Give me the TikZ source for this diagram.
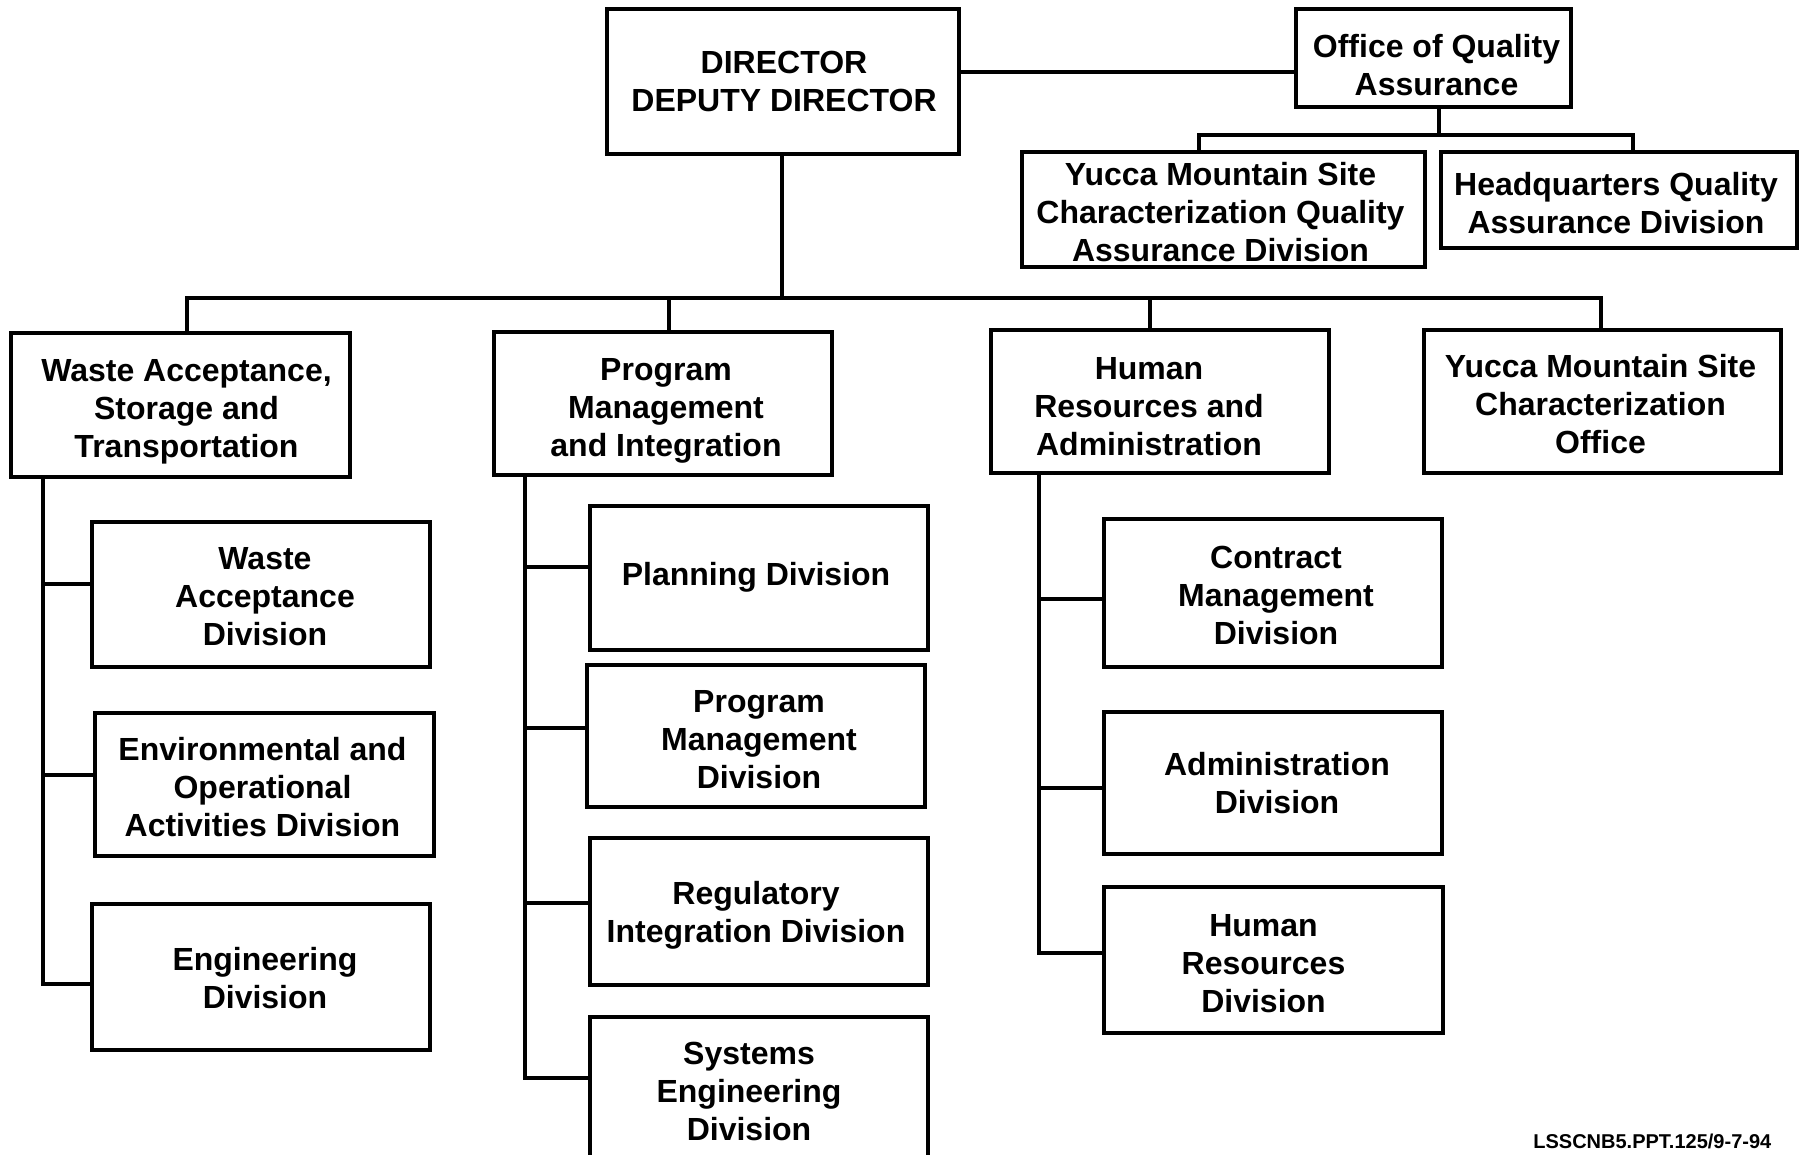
\documentclass[tikz,border=0pt]{standalone}
\usepackage{fontspec}
\setmainfont{Liberation Sans}
\begin{document}
\begin{tikzpicture}[x=1pt,y=-1pt,
  line width=3.5pt,
  box/.style={draw, line width=3.5pt, inner sep=0pt, fill=white},
  txt/.style={inner sep=0pt, align=center, font=\fontsize{32}{38}\selectfont\bfseries},
  conn/.style={line width=3.5pt}]
\useasboundingbox (0,0) rectangle (1801,1154);
\fill[white] (0,0) rectangle (1801,1154);
\clip (0,0) rectangle (1801,1154);

% top level
\node[box, minimum width=352, minimum height=145,
  label={[txt,shift={(1,0)}]center:{DIRECTOR\\DEPUTY DIRECTOR}}] (dir) at (783,81.5) {};
\node[box, minimum width=275, minimum height=98,
  label={[txt,shift={(3,7)}]center:{Office of Quality\\Assurance}}] (qa) at (1433.5,58) {};
\node[box, minimum width=403, minimum height=115,
  label={[txt,shift={(-3,3)}]center:{Yucca Mountain Site\\Characterization Quality\\Assurance Division}}] (ymqa) at (1223.5,209.5) {};
\node[box, minimum width=356, minimum height=96,
  label={[txt,shift={(-3,3.5)}]center:{Headquarters Quality\\Assurance Division}}] (hqqa) at (1619,200) {};

% second level
\node[box, minimum width=339, minimum height=144,
  label={[txt,shift={(6,7)}]center:{Waste Acceptance,\\Storage and\\Transportation}}] (wast) at (180.5,405) {};
\node[box, minimum width=338, minimum height=143,
  label={[txt,shift={(3,7)}]center:{Program\\Management\\and Integration}}] (pmi) at (663,403.5) {};
\node[box, minimum width=338, minimum height=143,
  label={[txt,shift={(-11,5)}]center:{Human\\Resources and\\Administration}}] (hra) at (1160,401.5) {};
\node[box, minimum width=357, minimum height=143,
  label={[txt,shift={(-2,3)}]center:{Yucca Mountain Site\\Characterization\\Office}}] (ymsco) at (1602.5,401.5) {};

% waste divisions
\node[box, minimum width=338, minimum height=145,
  label={[txt,shift={(4,2)}]center:{Waste\\Acceptance\\Division}}] (wad) at (261,594.5) {};
\node[box, minimum width=339, minimum height=143,
  label={[txt,shift={(-2,3)}]center:{Environmental and\\Operational\\Activities Division}}] (env) at (264.5,784.5) {};
\node[box, minimum width=338, minimum height=146,
  label={[txt,shift={(4,1)}]center:{Engineering\\Division}}] (eng) at (261,977) {};

% PMI divisions
\node[box, minimum width=338, minimum height=144,
  label={[txt,shift={(-3,-1)}]center:{Planning Division}}] (plan) at (759,578) {};
\node[box, minimum width=338, minimum height=142,
  label={[txt,shift={(3,4)}]center:{Program\\Management\\Division}}] (pmd) at (756,736) {};
\node[box, minimum width=338, minimum height=147,
  label={[txt,shift={(-3,3.5)}]center:{Regulatory\\Integration Division}}] (reg) at (759,911.5) {};
\node[box, minimum width=338, minimum height=148,
  label={[txt,shift={(-10,0)}]center:{Systems\\Engineering\\Division}}] (sys) at (759,1091) {};

% HRA divisions
\node[box, minimum width=338, minimum height=148,
  label={[txt,shift={(3,2)}]center:{Contract\\Management\\Division}}] (cm) at (1273,593) {};
\node[box, minimum width=338, minimum height=142,
  label={[txt,shift={(4,0)}]center:{Administration\\Division}}] (adm) at (1273,783) {};
\node[box, minimum width=339, minimum height=146,
  label={[txt,shift={(-10,4)}]center:{Human\\Resources\\Division}}] (hrd) at (1273.5,960) {};

% connectors: director and QA
\draw[conn] (dir.east |- 0,72) -- (qa.west |- 0,72);
\draw[conn] (qa.south -| 1439,0) -- (1439,135);
\draw[conn] (ymqa.north -| 1199,0) -- (1199,135) -- (1633,135) -- (hqqa.north -| 1633,0);

% director to second level
\draw[conn] (dir.south -| 782,0) -- (782,298);
\draw[conn] (wast.north -| 187,0) -- (187,298) -- (1601,298) -- (ymsco.north -| 1601,0);
\draw[conn] (pmi.north -| 669,0) -- (669,298);
\draw[conn] (hra.north -| 1150,0) -- (1150,298);

% waste tree
\draw[conn] (wast.south -| 43,0) -- (43,984) -- (eng.west |- 0,984);
\draw[conn] (43,584) -- (wad.west |- 0,584);
\draw[conn] (43,775) -- (env.west |- 0,775);

% PMI tree
\draw[conn] (pmi.south -| 525,0) -- (525,1078) -- (sys.west |- 0,1078);
\draw[conn] (525,567) -- (plan.west |- 0,567);
\draw[conn] (525,728) -- (pmd.west |- 0,728);
\draw[conn] (525,903) -- (reg.west |- 0,903);

% HRA tree
\draw[conn] (hra.south -| 1039,0) -- (1039,953) -- (hrd.west |- 0,953);
\draw[conn] (1039,599) -- (cm.west |- 0,599);
\draw[conn] (1039,788) -- (adm.west |- 0,788);

% footer
\node[anchor=base east, inner sep=0pt, font=\fontsize{20}{24}\selectfont\bfseries] (foot) at (1773,1148) {LSSCNB5.PPT.125/9-7-94};
\end{tikzpicture}
\end{document}
